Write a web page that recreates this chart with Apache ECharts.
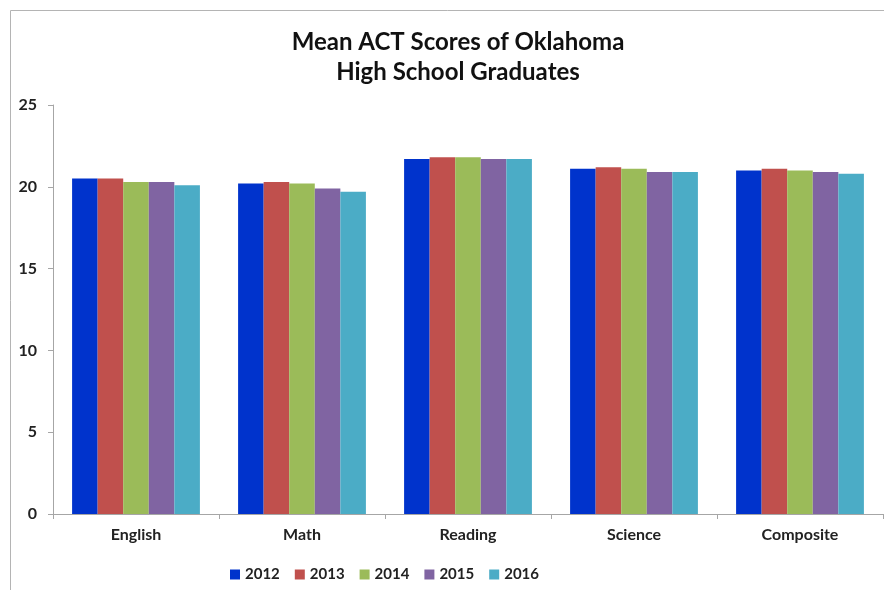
<!DOCTYPE html>
<html>
<head>
<meta charset="utf-8">
<script src="https://cdn.jsdelivr.net/npm/echarts@6/dist/echarts.min.js"></script>
<style>
  html, body { margin: 0; padding: 0; background: #fff; }
  #chart { width: 884px; height: 590px; }
</style>
</head>
<body>
<div id="chart"></div>
<script>
var subjects = ['English', 'Math', 'Reading', 'Science', 'Composite'];
var years = ['2012', '2013', '2014', '2015', '2016'];
var colors = ['#0033CC', '#C0504D', '#9BBB59', '#8064A2', '#4BACC6'];

// one array per year, in subject order
var y2012 = [20.5, 20.2, 21.7, 21.1, 21.0];
var y2013 = [20.5, 20.3, 21.8, 21.2, 21.1];
var y2014 = [20.3, 20.2, 21.8, 21.1, 21.0];
var y2015 = [20.3, 19.9, 21.7, 20.9, 20.9];
var y2016 = [20.1, 19.7, 21.7, 20.9, 20.8];
var yearData = [y2012, y2013, y2014, y2015, y2016];

var font = 'Lato, "Open Sans", sans-serif';
var myChart = echarts.init(document.getElementById('chart'));

var series = [];
for (var i = 0; i < years.length; i++) {
    series.push({
        name: years[i],
        type: 'bar',
        barGap: 0,
        barCategoryGap: '23%',
        itemStyle: { color: colors[i] },
        data: yearData[i]
    });
}

var option = {
    animation: false,
    title: {
        text: 'Mean ACT Scores of Oklahoma\nHigh School Graduates',
        left: 453,
        top: 22,
        textAlign: 'center',
        textStyle: {
            fontFamily: font,
            fontWeight: 'bold',
            fontSize: 24,
            lineHeight: 30,
            color: '#111'
        }
    },
    graphic: [{
        type: 'rect',
        shape: { x: 10.5, y: 10.5, width: 900, height: 600 },
        style: { fill: 'none', stroke: '#b4b4b4', lineWidth: 1 },
        silent: true
    }],
    legend: {
        data: years,
        left: 225,
        top: 562,
        itemWidth: 10,
        itemHeight: 10,
        itemGap: 15,
        icon: 'rect',
        textStyle: {
            fontFamily: font,
            fontWeight: 'bold',
            fontSize: 15,
            color: '#222'
        }
    },
    grid: {
        left: 53,
        right: 1,
        top: 105,
        bottom: 76,
        containLabel: false
    },
    xAxis: {
        type: 'category',
        data: subjects,
        axisLine: { lineStyle: { color: '#a6a6a6' } },
        axisTick: { show: true, length: 5, lineStyle: { color: '#a6a6a6' } },
        axisLabel: {
            margin: 13,
            fontFamily: font,
            fontWeight: 'bold',
            fontSize: 16,
            color: '#222'
        }
    },
    yAxis: {
        type: 'value',
        min: 0,
        max: 25,
        interval: 5,
        splitLine: { show: false },
        axisLine: { show: true, lineStyle: { color: '#a6a6a6' } },
        axisTick: { show: true, length: 5, lineStyle: { color: '#a6a6a6' } },
        axisLabel: {
            margin: 16,
            fontFamily: font,
            fontWeight: 'bold',
            fontSize: 16,
            color: '#222'
        }
    },
    series: series
};
myChart.setOption(option);
</script>
</body>
</html>
